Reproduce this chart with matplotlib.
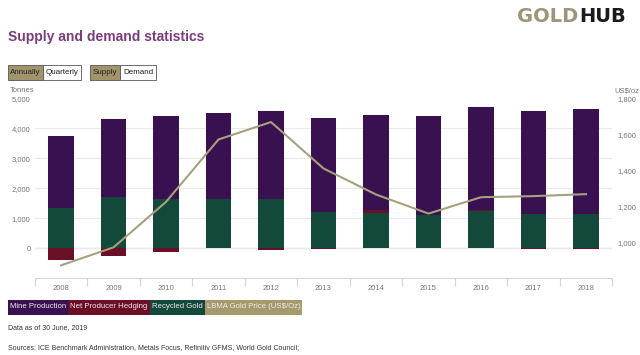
import matplotlib
matplotlib.use("Agg")
import matplotlib.pyplot as plt
from matplotlib.patches import Rectangle
import numpy as np

plt.rcParams["font.family"] = ["Liberation Sans", "DejaVu Sans"]

years = ["2008", "2009", "2010", "2011", "2012", "2013",
         "2014", "2015", "2016", "2017", "2018"]
mine_production = [2430, 2600, 2750, 2860, 2920, 3120, 3160, 3290, 3430, 3440, 3490]
net_hedging = [-375, -265, -130, 15, -45, -30, 105, 15, 30, -25, -10]
recycled_gold = [1330, 1715, 1660, 1630, 1650, 1215, 1180, 1105, 1250, 1130, 1150]
gold_price = [872, 972, 1225, 1572, 1669, 1411, 1266, 1160, 1251, 1257, 1268]

C_MINE = "#3a1150"
C_HEDGE = "#6b0f27"
C_RECYC = "#12493a"
C_GOLD = "#a59a6c"
C_LINE = "#a6a07e"
C_TITLE = "#7b3c7c"

W, H = 640, 355
fig = plt.figure(figsize=(W / 100, H / 100), dpi=100)


def fx(x):
    return x / W


def fy(y):
    return 1 - y / H


ax = fig.add_axes([fx(34.75), fy(278.3), fx(612.25 - 34.75), (278.3 - 98.5) / H])
x = np.arange(len(years))
mine = np.array(mine_production)
hedge = np.array(net_hedging)
recyc = np.array(recycled_gold)
bw = 0.49

# positive stack: recycled, hedging (if >0), mine on top; negative hedging below zero
hedge_pos = np.where(hedge > 0, hedge, 0)
hedge_neg = np.where(hedge < 0, hedge, 0)
ax.bar(x, recyc, bw, color=C_RECYC, zorder=2)
ax.bar(x, hedge_pos, bw, bottom=recyc, color=C_HEDGE, zorder=2)
ax.bar(x, mine, bw, bottom=recyc + hedge_pos, color=C_MINE, zorder=2)
ax.bar(x, hedge_neg, bw, color=C_HEDGE, zorder=2)

ax.set_xlim(-0.5, len(years) - 0.5)
ax.set_ylim(-1000, 5000)
ax.set_yticks(range(0, 5001, 1000))
ax.set_yticklabels([f"{v:,}" for v in range(0, 5001, 1000)])
ax.grid(axis="y", color="#e9e9e9", lw=0.8, zorder=0)
ax.axhline(0, color="#999999", lw=0.8, zorder=1)
for s in ["top", "left", "right"]:
    ax.spines[s].set_visible(False)
ax.spines["bottom"].set_color("#d0d6e0")
ax.spines["bottom"].set_linewidth(0.8)
ax.tick_params(axis="y", length=0, labelsize=5.5, labelcolor="#777777", pad=3)
ax.set_xticks(x)
ax.set_xticklabels(years)
ax.set_xticks(np.arange(-0.5, len(years), 1), minor=True)
ax.tick_params(axis="x", which="major", length=0, labelsize=5.5,
               labelcolor="#777777", pad=5)
ax.tick_params(axis="x", which="minor", length=6, color="#d0d6e0", width=0.8)

ax2 = ax.twinx()
ax2.plot(x, gold_price, color=C_LINE, lw=1.5, zorder=3)
ax2.set_ylim(800, 1800)
ax2.set_yticks(range(1000, 1801, 200))
ax2.set_yticklabels([f"{v:,}" for v in range(1000, 1801, 200)])
ax2.tick_params(axis="y", length=0, labelsize=5.5, labelcolor="#777777", pad=4)
for s in ax2.spines.values():
    s.set_visible(False)

fig.text(fx(10), fy(91), "Tonnes", fontsize=5.5, color="#777777", va="center")
fig.text(fx(614), fy(91), "US$/oz", fontsize=5.5, color="#777777", va="center")

# header
fig.text(fx(8), fy(37), "Supply and demand statistics", fontsize=10,
         fontweight="bold", color=C_TITLE, va="center")
fig.text(fx(578), fy(16.5), "GOLD", fontsize=14, color="#9c9578",
         ha="right", va="center", fontweight="bold", family=["DejaVu Sans"])
fig.text(fx(579), fy(16.5), "HUB", fontsize=14, color="#1b1b1b",
         ha="left", va="center", fontweight="bold", family=["DejaVu Sans"])

# toggle buttons
buttons = [("Annually", 8, 43, True), ("Quarterly", 43, 81, False),
           ("Supply", 90, 120, True), ("Demand", 120, 156, False)]
for label, x0, x1, on in buttons:
    fig.patches.append(Rectangle((fx(x0), fy(79.5)), fx(x1 - x0), 14.5 / H,
                                 transform=fig.transFigure,
                                 facecolor="#a1936a" if on else "white",
                                 edgecolor="#555555", lw=0.6))
    fig.text(fx((x0 + x1) / 2), fy(72.3), label, fontsize=5.8,
             color="#222222", ha="center", va="center")

# legend strip
legend = [("Mine Production", 8, 68, C_MINE), ("Net Producer Hedging", 68, 150, C_HEDGE),
          ("Recycled Gold", 150, 205, C_RECYC), ("LBMA Gold Price (US$/Oz)", 205, 302, C_GOLD)]
for label, x0, x1, col in legend:
    fig.patches.append(Rectangle((fx(x0), fy(314.5)), fx(x1 - x0), 15 / H,
                                 transform=fig.transFigure, facecolor=col, lw=0))
    fig.text(fx((x0 + x1) / 2), fy(307), label, fontsize=5.6,
             color="#f1eaf0", ha="center", va="center")

fig.text(fx(8), fy(328), "Data as of 30 June, 2019", fontsize=5.0,
         color="#333333", va="center")
fig.text(fx(8), fy(348), "Sources: ICE Benchmark Administration, Metals Focus, "
         "Refinitiv GFMS, World Gold Council;", fontsize=5.0, color="#333333", va="center")

fig.savefig("out.png", dpi=100)
